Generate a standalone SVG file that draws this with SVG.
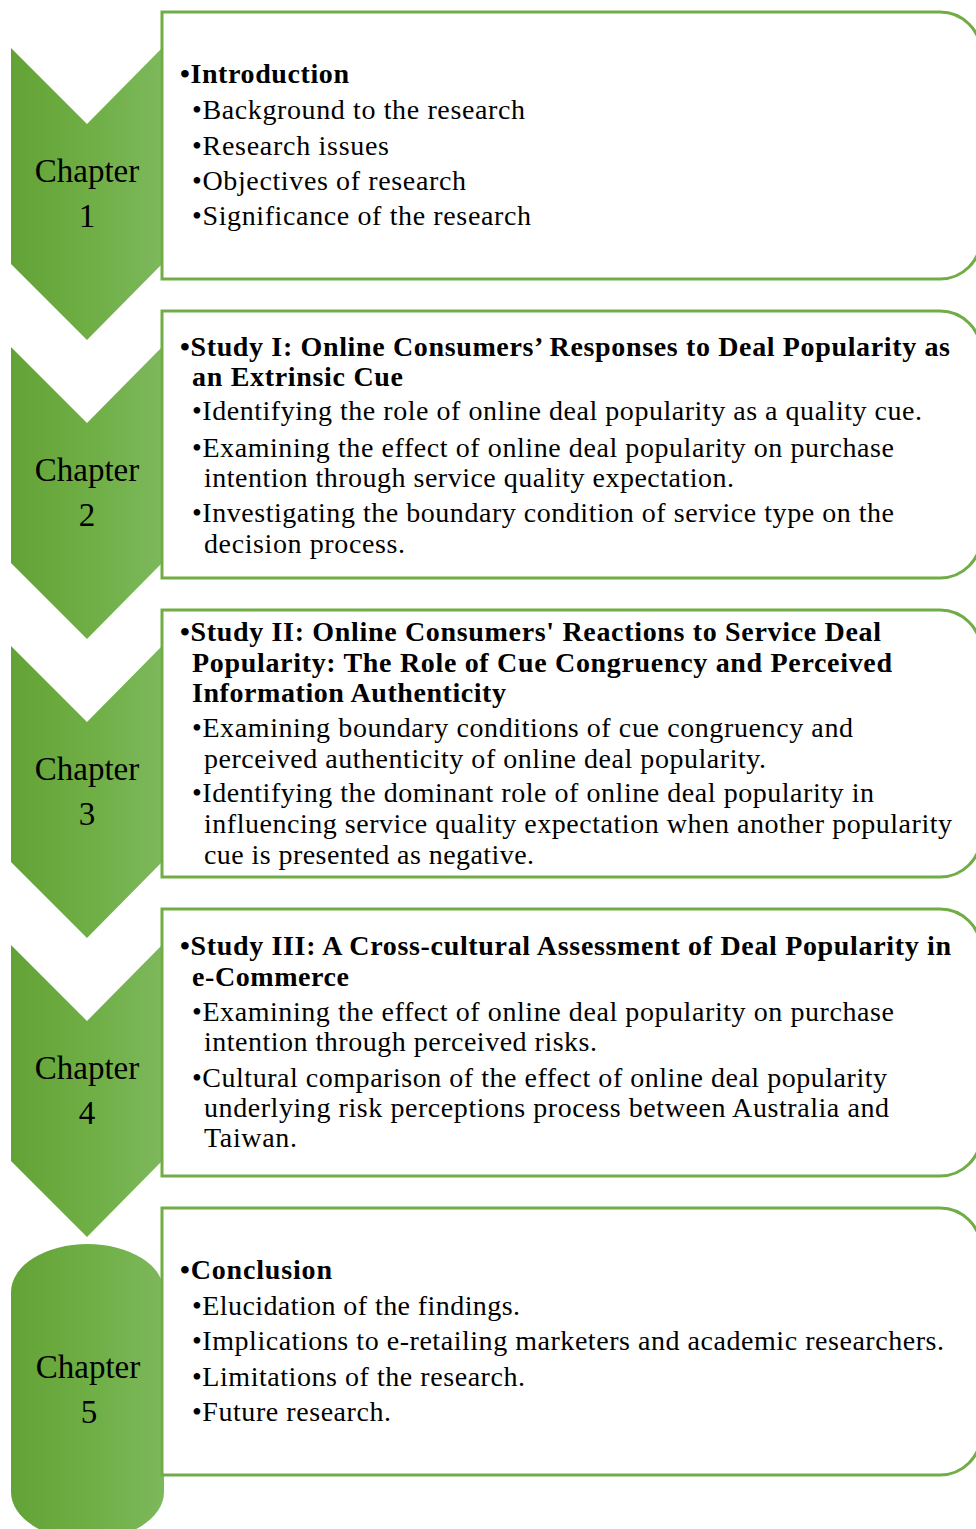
<svg xmlns="http://www.w3.org/2000/svg" width="976" height="1529" viewBox="0 0 976 1529">
<defs>
<linearGradient id="g" x1="0" y1="0" x2="1" y2="0">
<stop offset="0" stop-color="#62a236"/>
<stop offset="0.5" stop-color="#6eae44"/>
<stop offset="1" stop-color="#7db85c"/>
</linearGradient>
<style>
.chev{fill:url(#g);}
.box{fill:#ffffff;stroke:#70ad47;stroke-width:3;}
.lab{font-size:33px;fill:#000;text-anchor:middle;}
.t{font-size:28px;fill:#000;}
.b{font-weight:bold;}
</style>
</defs>
<rect width="976" height="1529" fill="#ffffff"/>

<g font-family="Liberation Serif, Times New Roman, serif">
<g id="chapter1">
<polygon class="chev" points="11,48 87,124 162,48 162,264 87,340 11,264"/>
<text class="lab" x="87" y="182">Chapter</text>
<text class="lab" x="87" y="227">1</text>
</g>
<g id="chapter2">
<polygon class="chev" points="11,347 87,423 162,347 162,563 87,639 11,563"/>
<text class="lab" x="87" y="481">Chapter</text>
<text class="lab" x="87" y="526">2</text>
</g>
<g id="chapter3">
<polygon class="chev" points="11,646 87,722 162,646 162,862 87,938 11,862"/>
<text class="lab" x="87" y="780">Chapter</text>
<text class="lab" x="87" y="825">3</text>
</g>
<g id="chapter4">
<polygon class="chev" points="11,945 87,1021 162,945 162,1161 87,1237 11,1161"/>
<text class="lab" x="87" y="1079">Chapter</text>
<text class="lab" x="87" y="1124">4</text>
</g>
<g id="chapter5">
<rect class="chev" x="11" y="1244" width="153" height="296" rx="76.5" ry="48"/>
<text class="lab" x="88" y="1378">Chapter</text>
<text class="lab" x="89" y="1423">5</text>
</g>

<g id="box1">
<path class="box" d="M162,12 H940 A41,41 0 0 1 981,53 V238 A41,41 0 0 1 940,279 H162 Z"/>
<text class="t b" x="180" y="83" textLength="169" lengthAdjust="spacing">•Introduction</text>
<text class="t" x="192" y="119" textLength="333" lengthAdjust="spacing">•Background to the research</text>
<text class="t" x="192" y="155" textLength="197" lengthAdjust="spacing">•Research issues</text>
<text class="t" x="192" y="190" textLength="274" lengthAdjust="spacing">•Objectives of research</text>
<text class="t" x="192" y="225" textLength="339" lengthAdjust="spacing">•Significance of the research</text>
</g>

<g id="box2">
<path class="box" d="M162,311 H940 A41,41 0 0 1 981,352 V537 A41,41 0 0 1 940,578 H162 Z"/>
<text class="t b" x="180" y="356" textLength="770" lengthAdjust="spacing">•Study I: Online Consumers’ Responses to Deal Popularity as</text>
<text class="t b" x="192" y="386" textLength="211" lengthAdjust="spacing">an Extrinsic Cue</text>
<text class="t" x="192" y="420" textLength="730" lengthAdjust="spacing">•Identifying the role of online deal popularity as a quality cue.</text>
<text class="t" x="192" y="457" textLength="702" lengthAdjust="spacing">•Examining the effect of online deal popularity on purchase</text>
<text class="t" x="204" y="487" textLength="530" lengthAdjust="spacing">intention through service quality expectation.</text>
<text class="t" x="192" y="522" textLength="702" lengthAdjust="spacing">•Investigating the boundary condition of service type on the</text>
<text class="t" x="204" y="553" textLength="201" lengthAdjust="spacing">decision process.</text>
</g>

<g id="box3">
<path class="box" d="M162,610 H940 A41,41 0 0 1 981,651 V836 A41,41 0 0 1 940,877 H162 Z"/>
<text class="t b" x="180" y="641" textLength="701" lengthAdjust="spacing">•Study II: Online Consumers' Reactions to Service Deal</text>
<text class="t b" x="192" y="672" textLength="700" lengthAdjust="spacing">Popularity: The Role of Cue Congruency and Perceived</text>
<text class="t b" x="192" y="702" textLength="314" lengthAdjust="spacing">Information Authenticity</text>
<text class="t" x="192" y="737" textLength="661" lengthAdjust="spacing">•Examining boundary conditions of cue congruency and</text>
<text class="t" x="204" y="768" textLength="562" lengthAdjust="spacing">perceived authenticity of online deal popularity.</text>
<text class="t" x="192" y="802" textLength="682" lengthAdjust="spacing">•Identifying the dominant role of online deal popularity in</text>
<text class="t" x="204" y="833" textLength="748" lengthAdjust="spacing">influencing service quality expectation when another popularity</text>
<text class="t" x="204" y="864" textLength="330" lengthAdjust="spacing">cue is presented as negative.</text>
</g>

<g id="box4">
<path class="box" d="M162,909 H940 A41,41 0 0 1 981,950 V1135 A41,41 0 0 1 940,1176 H162 Z"/>
<text class="t b" x="180" y="955" textLength="771" lengthAdjust="spacing">•Study III: A Cross-cultural Assessment of Deal Popularity in</text>
<text class="t b" x="192" y="986" textLength="157" lengthAdjust="spacing">e-Commerce</text>
<text class="t" x="192" y="1021" textLength="702" lengthAdjust="spacing">•Examining the effect of online deal popularity on purchase</text>
<text class="t" x="204" y="1051" textLength="393" lengthAdjust="spacing">intention through perceived risks.</text>
<text class="t" x="192" y="1087" textLength="695" lengthAdjust="spacing">•Cultural comparison of the effect of online deal popularity</text>
<text class="t" x="204" y="1117" textLength="685" lengthAdjust="spacing">underlying risk perceptions process between Australia and</text>
<text class="t" x="204" y="1147" textLength="93" lengthAdjust="spacing">Taiwan.</text>
</g>

<g id="box5">
<path class="box" d="M162,1208 H940 A41,41 0 0 1 981,1249 V1434 A41,41 0 0 1 940,1475 H162 Z"/>
<text class="t b" x="180" y="1279" textLength="152" lengthAdjust="spacing">•Conclusion</text>
<text class="t" x="192" y="1315" textLength="328" lengthAdjust="spacing">•Elucidation of the findings.</text>
<text class="t" x="192" y="1350" textLength="752" lengthAdjust="spacing">•Implications to e-retailing marketers and academic researchers.</text>
<text class="t" x="192" y="1386" textLength="333" lengthAdjust="spacing">•Limitations of the research.</text>
<text class="t" x="192" y="1421" textLength="199" lengthAdjust="spacing">•Future research.</text>
</g>
</g>

<g id="connectors"></g>
</svg>
